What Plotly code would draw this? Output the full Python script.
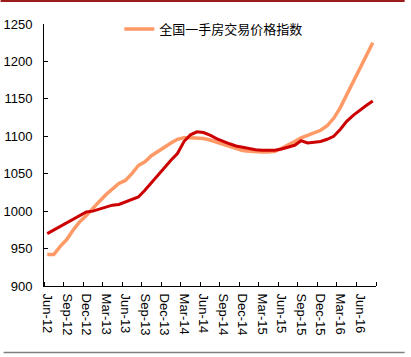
import plotly.graph_objects as go

months = [
    "Jun-12", "Jul-12", "Aug-12", "Sep-12", "Oct-12", "Nov-12", "Dec-12",
    "Jan-13", "Feb-13", "Mar-13", "Apr-13", "May-13", "Jun-13", "Jul-13", "Aug-13", "Sep-13", "Oct-13", "Nov-13", "Dec-13",
    "Jan-14", "Feb-14", "Mar-14", "Apr-14", "May-14", "Jun-14", "Jul-14", "Aug-14", "Sep-14", "Oct-14", "Nov-14", "Dec-14",
    "Jan-15", "Feb-15", "Mar-15", "Apr-15", "May-15", "Jun-15", "Jul-15", "Aug-15", "Sep-15", "Oct-15", "Nov-15", "Dec-15",
    "Jan-16", "Feb-16", "Mar-16", "Apr-16", "May-16", "Jun-16", "Jul-16", "Aug-16",
]

new_home_index = [
    942, 942, 953, 962, 975, 986, 994, 1004, 1013, 1022,
    1030, 1037, 1041, 1050, 1061, 1066, 1074, 1080, 1086, 1091,
    1096, 1098, 1098, 1098, 1097, 1095, 1092, 1089, 1086, 1083,
    1081, 1080, 1079, 1079, 1079, 1080, 1084, 1088, 1093, 1098,
    1101, 1104, 1108, 1114, 1124, 1138, 1155, 1173, 1190, 1207,
    1225,
]

second_index = [
    970, 975, 980, 985, 990, 995, 999, 1000, 1003, 1006,
    1008, 1009, 1012, 1016, 1019, 1028, 1038, 1049, 1059, 1068,
    1077, 1093, 1102, 1106, 1105, 1101.6, 1097, 1093, 1090, 1087,
    1085, 1083, 1082, 1081.5, 1081.5, 1081.5, 1083, 1086, 1088, 1094,
    1091, 1092, 1093, 1096, 1100, 1109, 1120, 1128, 1135, 1141,
    1147,
]

tick_labels = months[::3]
y_ticks = [900, 950, 1000, 1050, 1100, 1150, 1200, 1250]

x_idx = list(range(len(months)))

FONT = "Liberation Sans, Arial, Noto Sans CJK SC, sans-serif"

fig = go.Figure()
fig.add_trace(go.Scatter(
    x=x_idx, y=new_home_index, mode="lines",
    name="全国一手房交易价格指数",
    line=dict(color="#FF9966", width=3.5),
    hovertext=months,
))
fig.add_trace(go.Scatter(
    x=x_idx, y=second_index, mode="lines",
    name="指数2", showlegend=False,
    line=dict(color="#CC0000", width=3),
    hovertext=months,
))

# plot area in pixels: x 43.5..376.3, y 24..286
L, R, T, B = 43.5, 411 - 376.3, 24, 357 - 286
pw, ph = 411 - L - R, 357 - T - B

def px_x(p):
    return (p - L) / pw

def px_y(p):
    return (357 - B - p) / ph

fig.update_layout(
    width=411, height=357,
    margin=dict(l=L, r=R, t=T, b=B, pad=0, autoexpand=False),
    paper_bgcolor="white", plot_bgcolor="white",
    font=dict(family=FONT, size=12, color="black"),
    showlegend=True,
    legend=dict(
        x=px_x(119), y=px_y(29), xanchor="left", yanchor="middle",
        bgcolor="rgba(0,0,0,0)", borderwidth=0,
        font=dict(size=13, family="Noto Sans CJK SC, Liberation Sans, sans-serif"),
        itemwidth=30,
    ),
    xaxis=dict(
        range=[-0.5, len(months) - 0.5],
        tickmode="array",
        tickvals=x_idx[::3], ticktext=tick_labels,
        ticks="", tickangle=90,
        showline=True, linecolor="black", linewidth=1,
        showgrid=False, zeroline=False, automargin=False,
        tickfont=dict(size=13),
        ticklabelstandoff=4,
        minor=dict(
            tickmode="array",
            tickvals=[i - 0.5 for i in range(0, len(months) + 1, 3)],
            ticks="inside", ticklen=4, tickcolor="black", tickwidth=1,
            showgrid=False,
        ),
    ),
    yaxis=dict(
        range=[900, 1250],
        tickmode="array", tickvals=y_ticks,
        ticks="inside", ticklen=4, tickcolor="black",
        showline=True, linecolor="black", linewidth=1,
        showgrid=False, zeroline=False, automargin=False,
        tickfont=dict(size=13),
        ticklabelstandoff=8,
    ),
    shapes=[
        dict(type="line", xref="paper", yref="paper",
             x0=px_x(0), x1=px_x(405), y0=px_y(1), y1=px_y(1),
             line=dict(color="#9B1B1B", width=2)),
        dict(type="line", xref="paper", yref="paper",
             x0=px_x(3), x1=px_x(405), y0=px_y(352.5), y1=px_y(352.5),
             line=dict(color="#808080", width=1.5)),
    ],
)

fig.write_html(
    "out.html",
    config={"displayModeBar": False},
    post_script="document.body.style.margin='0';document.body.style.padding='0';",
)
